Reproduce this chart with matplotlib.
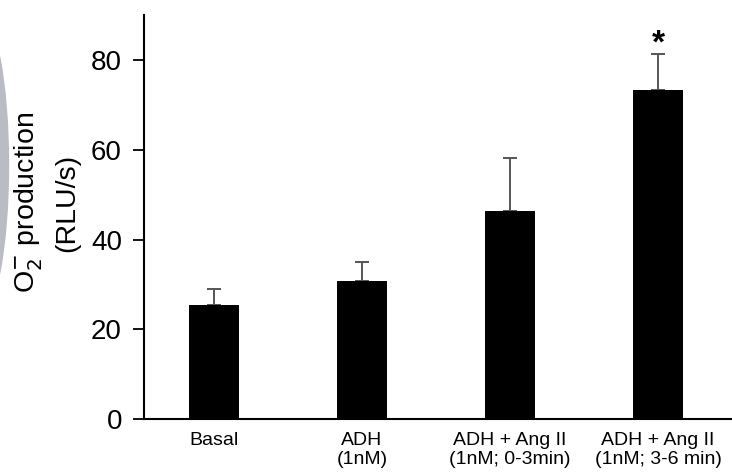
import matplotlib

matplotlib.use("Agg")
import matplotlib.pyplot as plt
from matplotlib.patches import Arc

plt.rcParams["font.family"] = ["Liberation Sans", "DejaVu Sans"]

# Данные
categories = ["Basal", "ADH\n(1nM)", "ADH + Ang II\n(1nM; 0-3min)", "ADH + Ang II\n(1nM; 3-6 min)"]
means = [25.5, 30.8, 46.3, 73.3]
errors = [3.5, 4.1, 11.8, 8.0]
significant = [False, False, False, True]

fig = plt.figure(figsize=(7.32, 4.73), dpi=100)
ax = fig.add_axes([0.197, 0.114, 0.803, 0.854])

x = list(range(len(categories)))
ax.bar(x, means, width=0.34, color="black", zorder=2)
ax.errorbar(x, means, yerr=[[0] * len(errors), errors], fmt="none",
            ecolor="#555555", elinewidth=1.4, capsize=5, capthick=1.4, zorder=1)

for xi, m, e, s in zip(x, means, errors, significant):
    if s:
        ax.text(xi, m + e + 2.2, "*", ha="center", va="center", fontsize=24, fontweight="bold")

ax.set_xlim(-0.47, 3.5)
ax.set_ylim(0, 90)
ax.set_yticks([0, 20, 40, 60, 80])
ax.tick_params(axis="y", labelsize=20, length=8, width=1.3, direction="out", pad=8)
ax.set_xticks(x)
ax.set_xticklabels(categories, fontsize=14, linespacing=1.15)
ax.tick_params(axis="x", length=0, pad=9)

for side in ["top", "right"]:
    ax.spines[side].set_visible(False)
ax.spines["left"].set_linewidth(1.5)
ax.spines["bottom"].set_linewidth(1.5)

# подпись оси Y в две строки
fig.text(0.038, 0.571, "O$_2^{-}$ production", rotation=90, ha="center", va="center", fontsize=20.5)
fig.text(0.092, 0.571, "(RLU/s)", rotation=90, ha="center", va="center", fontsize=20.5)

# серая дуга слева (артефакт скана)
arc = Arc((-0.035, 0.651), 0.08, 0.634, theta1=-90, theta2=90, transform=fig.transFigure,
          color="#b9bcc3", linewidth=8, zorder=0)
fig.add_artist(arc)

fig.savefig("out.png", dpi=100)
